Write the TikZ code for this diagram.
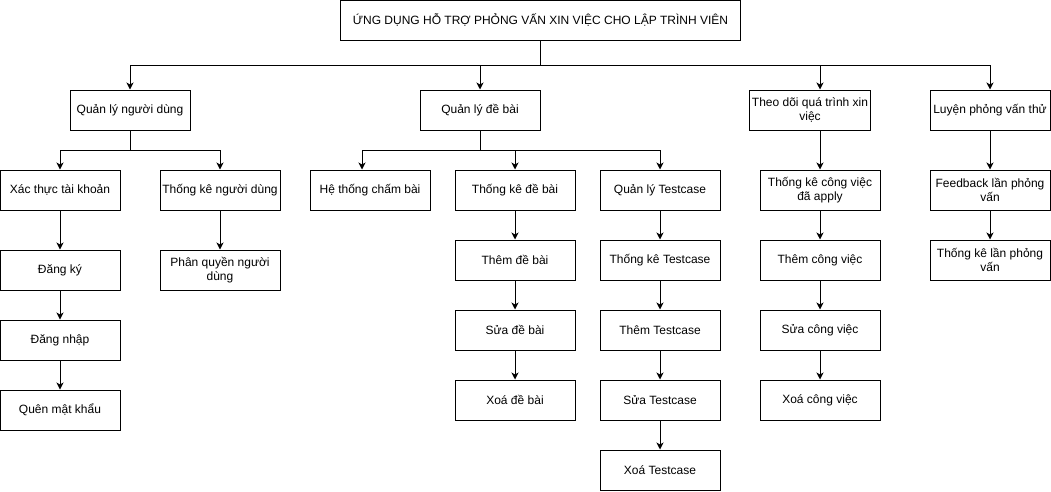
\documentclass[tikz,border=0pt]{standalone}
\usepackage{fontspec}
\setmainfont{Liberation Sans}
\usetikzlibrary{arrows.meta}

\tikzset{
  box/.style={draw, line width=1pt, minimum width=120pt, minimum height=40pt,
    align=center, inner sep=2pt, font=\fontsize{12pt}{14pt}\selectfont},
  arr/.style={-{Stealth[length=7pt,width=7pt,inset=2pt]}, line width=1pt}
}

\begin{document}
\begin{tikzpicture}[x=1pt,y=1pt]
    \useasboundingbox (0,0) rectangle (1051,-491);
    \node[box, minimum width=400pt] (app) at (540.5,-20)
      {ỨNG DỤNG HỖ TRỢ PHỎNG VẤN XIN VIỆC CHO LẬP TRÌNH VIÊN};
    % level 1
    \node[box] (qlnd)    at (130,-110) {Quản lý người dùng};
    \node[box] (qldb)    at (480,-110) {Quản lý đề bài};
    \node[box] (theodoi) at (810,-110) {Theo dõi quá trình xin\\việc};
    \node[box] (luyen)   at (990,-110) {Luyện phỏng vấn thử};
    % quan ly nguoi dung
    \node[box] (xacthuc)   at (60,-190)  {Xác thực tài khoản};
    \node[box] (tknd)      at (220,-190) {Thống kê người dùng};
    \node[box] (dangky)    at (60,-270)  {Đăng ký};
    \node[box] (dangnhap)  at (60,-340)  {Đăng nhập};
    \node[box] (quenmk)    at (60,-410)  {Quên mật khẩu};
    \node[box] (phanquyen) at (220,-270) {Phân quyền người\\dùng};
    % quan ly de bai
    \node[box] (hethong) at (370,-190) {Hệ thống chấm bài};
    \node[box] (tkdb)    at (515,-190) {Thống kê đề bài};
    \node[box] (qltc)    at (660,-190) {Quản lý Testcase};
    \node[box] (themdb)  at (515,-260) {Thêm đề bài};
    \node[box] (suadb)   at (515,-330) {Sửa đề bài};
    \node[box] (xoadb)   at (515,-400) {Xoá đề bài};
    \node[box] (tktc)    at (660,-260) {Thống kê Testcase};
    \node[box] (themtc)  at (660,-330) {Thêm Testcase};
    \node[box] (suatc)   at (660,-400) {Sửa Testcase};
    \node[box] (xoatc)   at (660,-470) {Xoá Testcase};
    % theo doi
    \node[box] (tkcv)   at (820,-190) {Thống kê công việc\\đã apply};
    \node[box] (themcv) at (820,-260) {Thêm công việc};
    \node[box] (suacv)  at (820,-330) {Sửa công việc};
    \node[box] (xoacv)  at (820,-400) {Xoá công việc};
    % luyen phong van
    \node[box] (feedback) at (990,-190) {Feedback lần phỏng\\vấn};
    \node[box] (tklpv)    at (990,-260) {Thống kê lần phỏng\\vấn};

    % connectors
    \coordinate (j0) at ([yshift=-25pt]app.south);
    \draw[line width=1pt] (app) -- (j0);
    \draw[arr] (j0) -| (qlnd);
    \draw[arr] (j0) -| (qldb);
    \draw[arr] (j0) -| ([xshift=10pt]theodoi.north);
    \draw[arr] (j0) -| (luyen);

    \coordinate (j1) at ([yshift=-20pt]qlnd.south);
    \draw[line width=1pt] (qlnd) -- (j1);
    \draw[arr] (j1) -| (xacthuc);
    \draw[arr] (j1) -| (tknd);
    \draw[arr] (xacthuc) -- (dangky);
    \draw[arr] (dangky) -- (dangnhap);
    \draw[arr] (dangnhap) -- (quenmk);
    \draw[arr] (tknd) -- (phanquyen);

    \coordinate (j2) at ([yshift=-20pt]qldb.south);
    \draw[line width=1pt] (qldb) -- (j2);
    \draw[arr] (j2) -| ([xshift=-8pt]hethong.north);
    \draw[arr] (j2) -| (tkdb);
    \draw[arr] (j2) -| (qltc);
    \draw[arr] (tkdb) -- (themdb);
    \draw[arr] (themdb) -- (suadb);
    \draw[arr] (suadb) -- (xoadb);
    \draw[arr] (qltc) -- (tktc);
    \draw[arr] (tktc) -- (themtc);
    \draw[arr] (themtc) -- (suatc);
    \draw[arr] (suatc) -- (xoatc);

    \draw[arr] ([xshift=10pt]theodoi.south) -- (tkcv);
    \draw[arr] (tkcv) -- (themcv);
    \draw[arr] (themcv) -- (suacv);
    \draw[arr] (suacv) -- (xoacv);

    \draw[arr] (luyen) -- (feedback);
    \draw[arr] (feedback) -- (tklpv);
\end{tikzpicture}
\end{document}
